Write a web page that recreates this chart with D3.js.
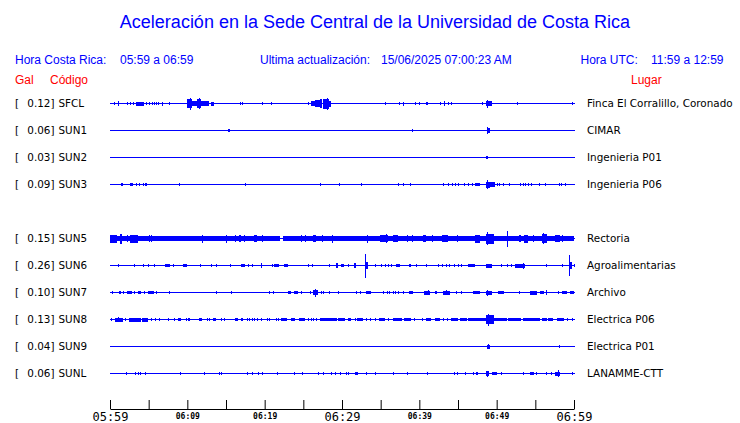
<!DOCTYPE html>
<html><head><meta charset="utf-8">
<script src="https://cdn.jsdelivr.net/npm/d3@7"></script>
<style>body{margin:0;background:#fff}svg{display:block}</style>
</head><body>
<script>
// ---------- DATA ----------
const slots = ["SFCL","SUN1","SUN2","SUN3","SUN4","SUN5","SUN6","SUN7","SUN8","SUN9","SUNL"];
const codes = ["SFCL","SUN1","SUN2","SUN3","SUN5","SUN6","SUN7","SUN8","SUN9","SUNL"];
const peaks = ["0.12","0.06","0.03","0.09","0.15","0.26","0.10","0.13","0.04","0.06"];
const places = ["Finca El Corralillo, Coronado","CIMAR","Ingenieria P01","Ingenieria P06","Rectoria","Agroalimentarias","Archivo","Electrica P06","Electrica P01","LANAMME-CTT"];
const tickMinutes = [0,5,10,15,20,25,30,35,40,45,50,55,60];
const tickLabels = {0:"05:59",10:"06:09",20:"06:19",30:"06:29",40:"06:39",50:"06:49",60:"06:59"};
const majorTicks = [0,30,60];
// bursts: [start minute, end minute, relative amplitude]
const evSFCL = [[0.56,0.56,0.7],[1.0,1.0,1.7],[2.2,2.2,1.3],[2.6,2.6,0.7],[3.0,3.0,1],[3.3,4.4,1.5],[4.7,4.7,1.3],[5.1,5.1,1.3],[5.4,5.4,1.3],[5.7,5.7,1.3],[5.9,5.9,1.3],[6.2,6.2,1.3],[6.7,6.7,1.5],[7.6,7.6,1],[9.96,10.64,4],[10.3,10.45,5.5],[10.64,11.2,2],[11.25,11.8,4],[11.45,11.55,4.7],[11.8,12.8,2],[13.1,13.4,1.5],[16.8,16.8,1],[17.1,17.1,1],[19.6,19.6,1.3],[20.8,20.8,0.7],[25.6,25.6,0.7],[26.0,26.5,2],[26.5,27.2,3],[27.2,27.4,4],[27.6,28.3,4.5],[28.0,28.1,5.5],[28.3,28.6,2.5],[35.5,35.5,1],[37.4,37.4,1],[37.9,37.9,1.5],[39.5,39.5,0.7],[40.0,40.0,1.3],[40.8,40.8,1.3],[41.0,41.0,1.3],[42.7,42.7,1.3],[43.2,43.2,2],[43.7,43.7,1],[44.1,44.1,1],[48.1,48.1,1.3],[48.6,49.4,2],[48.8,48.9,3.5],[52.6,52.6,1.3],[59.7,59.7,0.7]];
const evSUN1 = [[15.2,15.2,1.3],[15.4,15.4,1.3],[39.1,39.1,0.7],[48.7,49.1,2],[48.8,48.9,3]];
const evSUN2 = [[48.6,48.9,1.3]];
const evSUN3 = [[1.4,1.4,1.3],[1.6,1.6,1.3],[2.6,3.0,1.3],[3.3,3.3,1],[3.7,3.7,1],[4.3,4.3,1.3],[4.5,4.5,1.3],[4.65,4.65,1.3],[8.9,8.9,1.3],[17.4,17.4,0.7],[27.1,27.1,0.7],[29.65,29.65,1],[32.5,32.5,1.3],[37.2,37.2,1.3],[37.9,37.9,1.3],[38.8,38.8,1.3],[43.0,43.0,1.3],[43.75,43.75,1.3],[44.2,44.2,1.3],[44.6,44.6,1.3],[45.0,45.0,1.3],[45.8,45.8,0.7],[46.3,46.3,1],[46.8,46.8,1],[47.2,47.85,1.3],[48.6,49.1,2.5],[48.75,48.85,4],[49.1,49.8,1.7],[50.0,50.0,1.3],[50.35,50.35,1.3],[50.8,50.8,1.3],[51.6,51.6,1],[53.0,53.0,1.3],[53.4,53.4,1.3],[53.7,53.7,1.3],[54.1,54.1,1.3],[54.5,54.5,1.3],[55.5,55.5,1.3],[56.3,56.3,1.3],[58.0,58.0,1],[58.3,58.3,1],[58.8,58.8,1]];
const evSUN5 = [[0,22.0,2.0],[22.4,60,2.0],[0,0.9,3.5],[1.3,1.5,4.5],[2.15,2.15,3],[2.6,3.6,3.5],[5.0,5.0,3],[5.3,5.3,3],[11.85,11.85,3.5],[15.0,15.0,3.5],[16.2,16.2,2.7],[16.7,17.0,3],[17.3,17.3,2.7],[18.6,19.05,3.3],[19.7,19.7,2.7],[24.7,24.7,3.2],[25.2,25.2,3.2],[26.2,26.6,3.3],[27.4,27.4,2.7],[28.7,28.7,3.5],[33.2,33.2,3.5],[34.9,36.0,3.3],[35.7,35.8,4],[36.6,37.3,3],[38.4,38.4,2.7],[39.0,39.0,3.3],[40.5,40.9,3],[41.6,41.6,3.3],[42.9,43.75,3.3],[44.9,44.9,3],[47.2,47.85,3.5],[48.6,49.7,4.5],[48.8,48.9,6],[51.4,51.4,7.5],[52.9,53.2,3.3],[53.5,54.1,3.5],[54.7,54.7,3],[55.8,56.5,4],[56.0,56.1,5],[57.5,58.2,3.3],[58.5,58.5,3]];
const evSUN6 = [[1.0,1.0,0.7],[3.05,3.05,1.3],[4.3,4.3,1.3],[4.95,4.95,1.3],[5.7,5.7,0.7],[7.1,7.7,1.3],[8.2,8.2,0.7],[9.5,10.0,1.3],[11.7,11.7,1.3],[13.0,13.0,1.3],[13.7,13.7,1.3],[15.5,15.5,1.3],[17.0,17.5,1.3],[17.8,17.8,1.3],[18.4,18.4,1.3],[19.5,19.5,2],[20.9,20.9,1.3],[21.2,21.9,1.3],[22.5,23.0,1.3],[25.65,25.65,1.3],[26.1,26.1,1.3],[28.35,28.35,1.3],[29.2,29.5,2],[29.9,30.2,1.3],[30.8,30.8,0.7],[31.5,31.8,2],[33.0,33.3,3],[33.0,33.0,11.5],[34.3,34.3,1.3],[35.0,35.0,1.3],[35.5,35.5,1.3],[36.0,36.0,1.3],[36.4,36.4,1.3],[37.0,37.5,1.3],[38.6,38.9,1.3],[39.6,39.6,1.3],[40.8,40.8,1.3],[42.45,42.45,1.3],[42.9,42.9,1.3],[43.45,43.45,1.3],[43.9,43.9,1.3],[44.5,44.5,1.3],[45.0,45.0,1.3],[45.4,45.4,1.3],[46.3,47.2,1.3],[48.6,49.35,1.5],[50.55,50.55,1.3],[51.4,51.4,1],[51.9,51.9,1],[52.4,53.7,1.5],[53.4,53.5,2.5],[56.35,56.35,1.3],[58.4,58.4,0.7],[59.3,59.7,3],[59.4,59.4,10],[60,60,1]];
const evSUN7 = [[0.3,0.3,1.3],[1.1,1.1,1.3],[1.3,1.3,1.3],[1.7,1.7,1],[2.2,2.8,1.3],[3.15,3.15,1],[3.6,4.0,1.3],[4.4,4.4,1],[4.9,5.7,1.3],[5.95,5.95,1],[7.6,7.6,1.3],[13.7,13.7,1.3],[15.7,15.7,1.3],[20.5,20.5,1.3],[21.05,21.05,1.3],[23.05,23.35,1.3],[23.8,24.25,1.3],[24.7,24.7,1.3],[25.8,25.8,0.7],[26.2,26.9,2],[26.55,26.65,3.5],[27.3,27.3,0.7],[27.6,27.6,0.7],[28.35,28.35,1],[29.5,29.5,1.3],[31.8,31.8,1.3],[32.3,32.3,0.7],[33.1,33.7,1.3],[35.35,35.35,1],[35.8,35.8,1],[36.1,36.1,1],[36.55,36.55,1],[36.85,36.85,1],[37.3,37.3,1],[37.85,37.85,0.7],[38.6,39.2,1.3],[40.6,41.4,1.5],[41.1,41.2,2],[42.0,42.3,1.3],[43.0,44.0,1.5],[43.5,43.6,2],[44.8,44.8,1.3],[45.35,45.35,1.3],[47.0,47.85,1.3],[48.6,49.35,1.5],[48.8,48.9,2.5],[50.2,50.95,1.3],[52.9,52.9,1.3],[54.3,55.25,1.5],[55.6,56.1,1.3],[56.4,56.4,2],[57.95,57.95,1],[58.4,59.05,1.3],[59.5,60,1.3]];
const evSUN8 = [[0.1,0.3,1.3],[0.65,1.7,1.5],[1.0,1.1,2],[2.0,2.0,1],[2.45,4.0,1.5],[4.2,4.95,1.5],[5.3,5.3,1.3],[5.8,5.8,1.3],[6.3,6.3,1.3],[7.5,7.5,0.7],[8.3,8.3,1.3],[8.75,9.2,1.3],[9.8,9.8,1.3],[10.1,10.4,1.3],[11.5,11.95,1.3],[12.5,12.5,1],[12.85,12.85,1],[13.3,13.7,1.3],[14.35,14.35,1.3],[14.8,14.8,1.3],[16.2,16.5,1],[16.95,17.25,1.3],[17.7,17.7,1.3],[18.0,18.0,1.3],[18.3,18.3,1.3],[18.65,18.65,1.3],[18.95,18.95,1.3],[19.5,19.7,1.3],[20.25,20.25,1.3],[20.55,20.55,1.3],[21.5,21.5,1],[21.75,21.75,1],[22.1,22.85,1.3],[23.4,23.9,1.3],[24.45,25.2,1.3],[25.55,25.55,1],[26.0,26.0,1],[26.3,26.3,1],[26.6,26.6,1],[27.15,29.3,1.3],[29.5,30.4,1.3],[30.8,31.1,1],[31.7,31.7,1],[31.9,32.75,1.3],[33.1,33.1,1],[33.6,33.6,1],[34.3,34.3,1],[34.8,35.55,1.3],[36.0,36.0,0.7],[36.6,37.7,1.3],[38.0,38.9,1.3],[39.3,39.3,0.7],[40.3,40.3,0.7],[40.9,41.5,1.3],[42.0,42.7,1.3],[43.0,43.0,0.7],[43.6,43.6,1.3],[44.1,45.0,1.3],[45.2,46.1,1.3],[46.3,47.4,1.3],[47.5,48.6,1.3],[48.6,49.7,4],[48.85,48.95,5.5],[49.7,51.3,1.3],[51.5,53.2,1.3],[53.4,55.6,1.3],[55.8,56.45,1.3],[56.7,57.3,1.3],[57.75,58.7,1.3],[59.05,59.05,1.3],[59.7,59.7,1.3]];
const evSUN9 = [[48.7,49.1,1.5],[48.85,48.9,2],[58.0,58.0,0.7]];
const evSUNL = [[2.05,2.05,1.3],[3.2,3.2,0.7],[3.6,3.6,1.3],[3.9,3.9,1.3],[4.5,4.5,1.3],[9.05,9.05,1.3],[12.2,12.2,1.3],[14.1,14.1,1],[14.35,14.35,1],[17.75,17.75,1.3],[18.3,18.3,0.7],[19.2,19.2,1],[19.7,19.7,1],[21.55,21.55,0.7],[23.8,23.8,1.3],[24.8,24.8,0.7],[26.95,26.95,1.3],[27.6,27.6,1.3],[28.6,28.6,1],[29.1,29.1,1],[29.75,29.75,1.3],[30.5,30.5,1],[30.8,30.8,1],[31.7,32.1,1.3],[33.1,33.1,1],[34.3,34.3,1],[36.6,36.6,0.7],[38.4,38.4,0.7],[41.0,41.0,0.7],[44.5,44.5,1.3],[44.9,44.9,1.3],[45.9,45.9,1],[46.9,46.9,1.3],[47.3,47.6,1.3],[48.6,49.05,2],[48.75,48.85,2.5],[49.35,50.0,1.3],[50.5,50.5,1],[53.4,53.4,1],[54.3,54.8,1.3],[55.15,55.15,0.7],[56.4,56.4,1],[57.0,57.0,1],[57.5,58.2,1.5],[57.9,58.0,3],[59.7,59.7,0.7]];
const events = [evSFCL,evSUN1,evSUN2,evSUN3,evSUN5,evSUN6,evSUN7,evSUN8,evSUN9,evSUNL];

// ---------- DRAW ----------
const W = 740, H = 423;
const BLUE = "#0000ff", RED = "#ff0000";
const svg = d3.select("body").append("svg").attr("width", W).attr("height", H);

const x = d3.scaleLinear().domain([0, 60]).range([110, 574]);
const y = d3.scalePoint().domain(slots).range([103, 373]);
const amp = d3.scaleLinear().domain([0, 1]).range([0, 1]);

svg.append("text").attr("x", 375).attr("y", 28).attr("text-anchor", "middle")
  .attr("font-family", "Liberation Sans, Arial, sans-serif").attr("font-size", 18).attr("fill", BLUE)
  .text("Aceleración en la Sede Central de la Universidad de Costa Rica");

const hdr = [
  ["Hora Costa Rica:", 15, 64, BLUE], ["05:59 a 06:59", 120, 64, BLUE],
  ["Ultima actualización:", 260, 64, BLUE], ["15/06/2025 07:00:23 AM", 381, 64, BLUE],
  ["Hora UTC:", 580.5, 64, BLUE], ["11:59 a 12:59", 651, 64, BLUE],
  ["Gal", 15, 84, RED], ["Código", 50, 84, RED], ["Lugar", 631, 84, RED]
];
svg.selectAll("text.hdr").data(hdr).join("text").attr("class", "hdr")
  .attr("x", d => d[1]).attr("y", d => d[2]).attr("fill", d => d[3])
  .attr("font-family", "Liberation Sans, Arial, sans-serif").attr("font-size", 12)
  .text(d => d[0]);

const rows = svg.selectAll("g.row").data(codes).join("g").attr("class", "row");
const lf = "DejaVu Sans, sans-serif";
rows.append("text").attr("x", 15).attr("y", d => y(d) + 4).attr("font-family", lf).attr("font-size", 10.4).text("[");
rows.append("text").attr("x", 54.5).attr("y", d => y(d) + 4).attr("text-anchor", "end").attr("font-family", lf).attr("font-size", 10.4)
  .text((d, i) => peaks[i] + "]");
rows.append("text").attr("x", 58.5).attr("y", d => y(d) + 4).attr("font-family", lf).attr("font-size", 10.4).text(d => d);
rows.append("text").attr("x", 587).attr("y", d => y(d) + 4).attr("font-family", lf).attr("font-size", 10.4)
  .text((d, i) => places[i]);

rows.append("rect").attr("x", x(0)).attr("y", d => y(d)).attr("width", x(60) - x(0) + 1).attr("height", 1)
  .attr("fill", BLUE).attr("shape-rendering", "crispEdges");

rows.each(function (code, i) {
  d3.select(this).selectAll("rect.ev").data(events[i]).join("rect").attr("class", "ev")
    .attr("x", e => x(e[0]))
    .attr("width", e => Math.max(1, x(e[1]) - x(e[0])))
    .attr("y", e => y(code) - amp(e[2]))
    .attr("height", e => 2 * amp(e[2]) + 1)
    .attr("fill", BLUE).attr("shape-rendering", "crispEdges");
});

// time axis
const axis = d3.axisBottom(x).tickValues(tickMinutes).tickSizeInner(-9).tickSizeOuter(0)
  .tickPadding(0).tickFormat(m => tickLabels[m] || "");
const ax = svg.append("g").attr("transform", "translate(0,409)").call(axis);
ax.select(".domain").attr("stroke", "#000");
ax.selectAll(".tick line").attr("stroke", "#000");
ax.selectAll(".tick text").attr("fill", "#000").attr("dy", null)
  .attr("font-family", "DejaVu Sans Mono, monospace")
  .attr("font-size", m => majorTicks.includes(m) ? 12 : 8)
  .attr("font-weight", m => majorTicks.includes(m) ? "normal" : "bold")
  .attr("y", m => majorTicks.includes(m) ? 12 : 9.5);
</script>
</body></html>
